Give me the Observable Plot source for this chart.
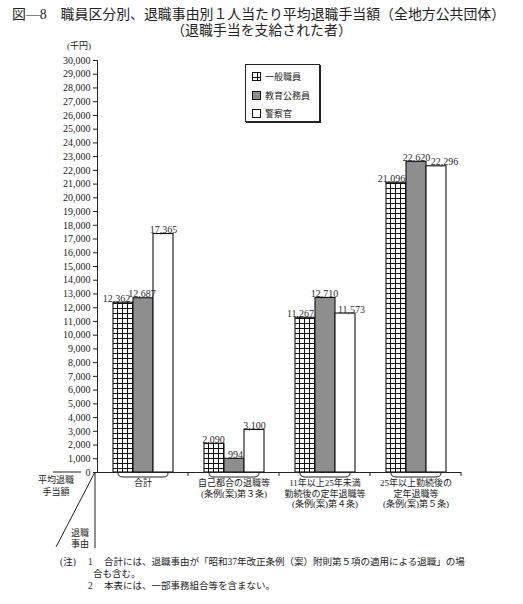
<!DOCTYPE html>
<html>
<head>
<meta charset="utf-8">
<script src="https://cdn.jsdelivr.net/npm/d3@7"></script>
<script src="https://cdn.jsdelivr.net/npm/@observablehq/plot@0.6"></script>
<style>
  body { margin: 0; background: #fff; color: #222; font-family: "Liberation Serif", "Noto Sans CJK JP", serif; }
  #page { position: relative; width: 523px; height: 604px; overflow: hidden; }
  .abs { position: absolute; white-space: nowrap; line-height: 1; }
  #chart { position: absolute; left: 0; top: 38px; }
  #legend { position: absolute; left: 245px; top: 64px; width: 73px; height: 56px; border: 1px solid #222; box-shadow: 1px 1px 0 #222; background: #fff; }
  #legend .item { position: absolute; left: 6px; font-size: 9px; display: flex; align-items: center; gap: 4px; }
</style>
</head>
<body>
<div id="page">
  <div class="abs" style="left:12px;top:8px;font-size:13.9px">図―8　職員区分別、退職事由別１人当たり平均退職手当額（全地方公共団体）</div>
  <div class="abs" style="left:0;width:523px;text-align:center;top:24px;font-size:13.9px">（退職手当を支給された者）</div>
  <div class="abs" style="left:67px;top:42px;font-size:9px">(千円)</div>
  <div id="chart"></div>
  <div id="legend"></div>
  <div class="abs" style="left:60px;top:558px;font-size:9.5px">(注)</div>
  <div class="abs" style="left:88px;top:558px;font-size:9.5px">1</div>
  <div class="abs" style="left:104px;top:558px;font-size:9.5px">合計には、退職事由が「昭和37年改正条例（案）附則第５項の適用による退職」の場</div>
  <div class="abs" style="left:93px;top:570px;font-size:9.5px">合も含む。</div>
  <div class="abs" style="left:88px;top:582px;font-size:9.5px">2</div>
  <div class="abs" style="left:104px;top:582px;font-size:9.5px">本表には、一部事務組合等を含まない。</div>
</div>
<script>
// 退職事由（カテゴリ）
const reasons = ['合計', '自己都合の退職等', '11年以上25年未満勤続後の定年退職等', '25年以上勤続後の定年退職等']
const reasonLabels = [
  '合計',
  '自己都合の退職等\n(条例(案)第３条)',
  '11年以上25年未満\n勤続後の定年退職等\n(条例(案)第４条)',
  '25年以上勤続後の\n定年退職等\n(条例(案)第５条)',
]
// 職員区分
const kinds = ['一般職員', '教育公務員', '警察官']
// 平均退職手当額（千円）
const general = [12362, 2090, 11267, 21096]
const teachers = [12687, 994, 12710, 22620]
const police = [17365, 3100, 11573, 22296]
const yTicks = d3.range(0, 30001, 1000)

const fills = ['url(#grid)', '#8e8e8e', 'white']
// ラベルの横ずらし（重なり回避）
const nudge = [[-7, -1.5, 0], [-1, 1, 0], [-5, -1, 6], [-5, 0, 8]]

const rows = []
;[general, teachers, police].forEach((vals, k) =>
  vals.forEach((v, i) => rows.push({reason: reasons[i], kind: kinds[k], value: v, k, i}))
)

// 各グループの下の括弧と区切り目盛
function groupDecor(index, scales) {
  const x = scales.x
  const y0 = scales.y(0)
  const right = x.range()[1]
  const l = x(kinds[0]) + 5
  const r = x(kinds[2]) + x.bandwidth() - 5
  const g = d3.create('svg:g').attr('fill', 'none').attr('stroke', '#222')
  g.append('path').attr('d', `M${right},${y0}v4`)
  g.append('path').attr('d', `M${l},${y0 + 1}q0,4 5,4H${r - 5}q5,0 5,-4`)
  return g.node()
}

const chart = Plot.plot({
  width: 523,
  height: 515,
  marginTop: 22,
  marginBottom: 81,
  marginLeft: 95,
  marginRight: 61,
  style: {
    fontFamily: '"Liberation Serif", "Noto Sans CJK JP", serif',
    fontSize: '10px',
    color: '#222',
    background: 'transparent',
    overflow: 'visible',
  },
  fx: {domain: reasons, padding: 0, axis: null},
  x: {domain: kinds, paddingInner: 0, paddingOuter: 0.725, axis: null},
  y: {
    domain: [0, 30000],
    ticks: yTicks,
    tickFormat: d3.format(',d'),
    tickSize: 4,
    tickPadding: 3,
    line: true,
    label: null,
  },
  marks: [
    ...kinds.map((kind, k) =>
      Plot.barY(rows.filter(d => d.k === k), {
        fx: 'reason',
        x: 'kind',
        y: 'value',
        fill: fills[k],
        stroke: '#111',
        strokeWidth: 1.1,
      })
    ),
    Plot.ruleY([0], {stroke: '#222', strokeWidth: 1.2}),
    groupDecor,
    ...rows.map(d =>
      Plot.text([d], {
        fx: 'reason',
        x: 'kind',
        y: 'value',
        text: d => d3.format(',d')(d.value),
        lineAnchor: 'bottom',
        dy: -1,
        dx: nudge[d.i][d.k],
        fill: '#2a2a33',
      })
    ),
    Plot.text(reasons, {
      fx: d => d,
      text: (d, i) => reasonLabels[i],
      frameAnchor: 'bottom',
      lineAnchor: 'top',
      dy: 6,
      fontSize: 9,
      lineHeight: 1.17,
    }),
  ],
})

const svg = d3.select(chart)
// 一般職員用の格子パターン
const pat = svg.insert('defs', ':first-child').append('pattern')
  .attr('id', 'grid').attr('width', 5).attr('height', 5)
  .attr('patternUnits', 'userSpaceOnUse')
pat.append('rect').attr('width', 5).attr('height', 5).attr('fill', 'white')
pat.append('path').attr('d', 'M0,0.5H5M0.5,0V5').attr('stroke', '#111').attr('stroke-width', 1)

// 左下の見出し部分
const y0 = chart.scale('y').range[0]
const ml = 95
const bottom = 510
const deco = svg.append('g').attr('stroke', '#222').attr('fill', 'none')
deco.append('path').attr('d', `M53,${y0}H81`)
deco.append('path').attr('d', `M${ml},${y0}V${bottom}`)
deco.append('path').attr('d', `M${ml},${y0}L56,${bottom - 1}`)
const lab = svg.append('g').attr('font-size', 9).attr('fill', '#222')
lab.append('text').attr('x', 56).attr('y', y0 + 11).text('平均退職')
lab.append('text').attr('x', 56).attr('y', y0 + 23).text('手当額')
lab.append('text').attr('x', 89).attr('y', y0 + 64).attr('text-anchor', 'end').text('退職')
lab.append('text').attr('x', 89).attr('y', y0 + 75).attr('text-anchor', 'end').text('事由')

d3.select('#chart').append(() => chart)

// 凡例
const legend = d3.select('#legend')
kinds.forEach((kind, k) => {
  const item = legend.append('div').attr('class', 'item').style('top', `${5 + k * 18.5}px`)
  const s = item.append('svg').attr('width', 9).attr('height', 9)
  s.append('rect').attr('x', 0.5).attr('y', 0.5).attr('width', 8).attr('height', 8)
    .attr('fill', fills[k]).attr('stroke', '#111')
  item.append('span').text(kind)
})
</script>
</body>
</html>
